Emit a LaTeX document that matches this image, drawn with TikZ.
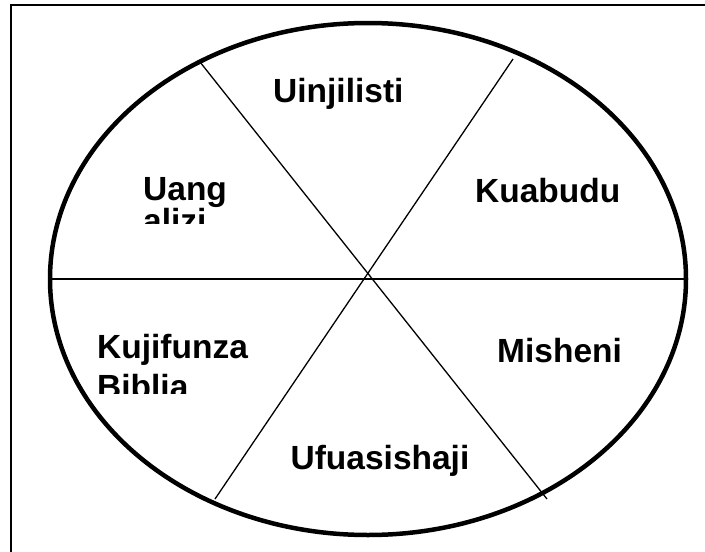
\documentclass[tikz,border=0pt]{standalone}
\usepackage{fontspec}
\setmainfont{Liberation Sans}

\begin{document}
\begin{tikzpicture}[
    x=1pt, y=-1pt,
    rim/.style={line width=4.5pt},
    spoke/.style={line width=1.3pt},
    frame/.style={line width=2.5pt},
    lbl/.style={font=\fontsize{33.5}{38}\selectfont\bfseries, inner sep=0pt,
      anchor=base west, align=left},
  ]
  \useasboundingbox (0,0) rectangle (705,552);

  % ---- geometry ------------------------------------------------------
  \def\rx{318}
  \def\ry{256}
  \coordinate (C) at (368,279);          % wheel centre

  \coordinate (W)  at (50,279);
  \coordinate (E)  at (686,279);
  \coordinate (NW) at (200,62);
  \coordinate (SE) at (547,499);
  \coordinate (NE) at (513,59);
  \coordinate (SW) at (215,499);

  % ---- frame (right and bottom edges fall off the page) --------------
  \draw[frame] (11,5) rectangle (720,570);

  % ---- wheel ---------------------------------------------------------
  \draw[rim] (C) ellipse [x radius=\rx, y radius=\ry];
  \draw[spoke] (W) -- (E);
  \draw[spoke] (NW) -- (SE);
  \draw[spoke] (NE) -- (SW);

  % ---- segment labels ------------------------------------------------
  \node[lbl] (uinjilisti) at (273,102) {Uinjilisti};
  \node[lbl] (kuabudu) at (475,202) {Kuabudu};
  \node[lbl] (misheni) at (497,362) {Misheni};
  \node[lbl, anchor=base] (ufuasishaji) at (380,469) {Ufuasishaji};

  % text boxes cut off below their second line (base = last line)
  \begin{scope}
    \clip (130,150) rectangle (300,223);
    \node[lbl, font=\fontsize{33.5}{32}\selectfont\bfseries] (uangalizi)
      at (143,232) {Uang\\alizi};
  \end{scope}
  \begin{scope}
    \clip (85,310) rectangle (290,393);
    \node[lbl, font=\fontsize{33.5}{40}\selectfont\bfseries] (kujifunza)
      at (97,398) {Kujifunza\\Biblia};
  \end{scope}

\end{tikzpicture}
\end{document}
